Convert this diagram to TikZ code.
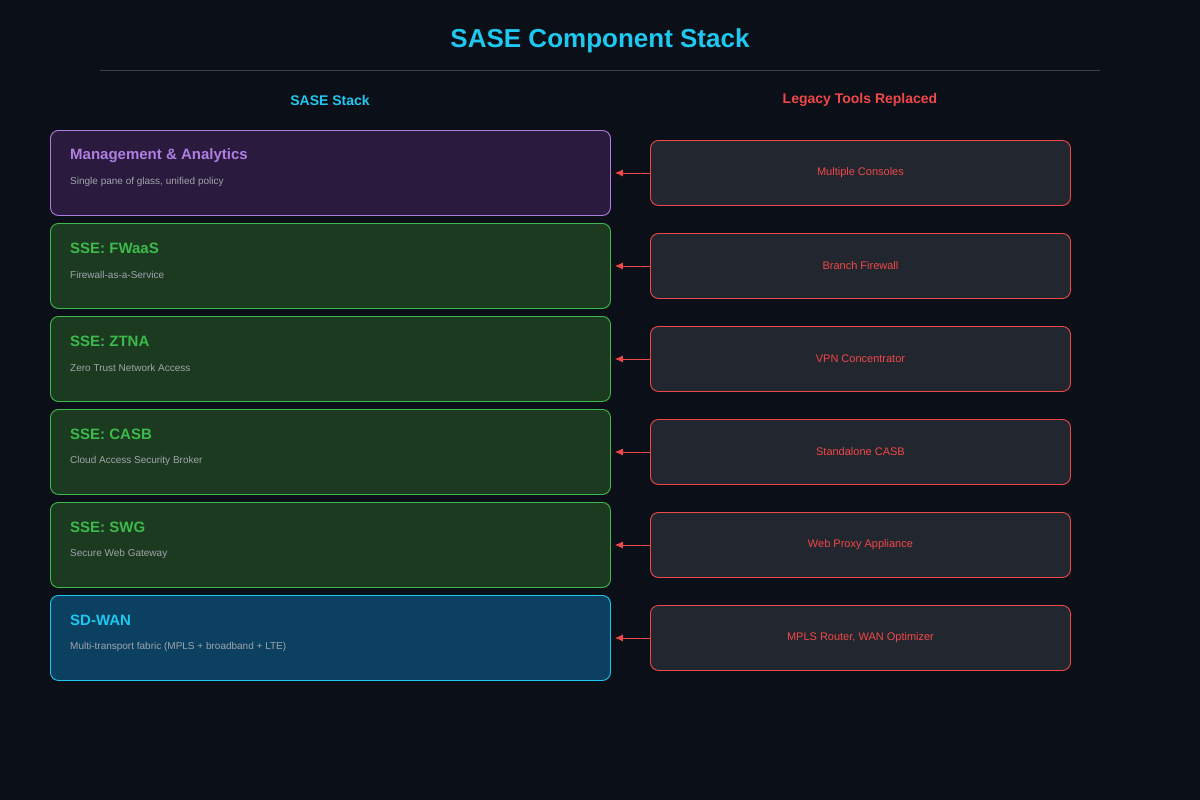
\documentclass[tikz,border=0pt]{standalone}
\usepackage{fontspec}
\setmainfont{Liberation Sans}
\usetikzlibrary{arrows.meta}
\definecolor{bg}{HTML}{0B0F17}
\definecolor{cyan}{HTML}{1EC8F0}
\definecolor{pfill}{HTML}{2A1A3E}\definecolor{pline}{HTML}{B07EE0}
\definecolor{gfill}{HTML}{1B3A20}\definecolor{gline}{HTML}{3CBA4C}
\definecolor{bfill}{HTML}{0C4060}
\definecolor{rline}{HTML}{F04848}\definecolor{rfill}{HTML}{22262E}
\definecolor{sub}{HTML}{A0A4AC}
\begin{document}
\begin{tikzpicture}[x=1pt,y=-1pt,
 stack/.style={draw,rounded corners=8pt,line width=0.9pt,minimum width=560pt,minimum height=85pt,anchor=north west},
 leg/.style={draw=rline,fill=rfill,rounded corners=8pt,line width=0.9pt,minimum width=420pt,minimum height=65pt,anchor=north west,text=rline,font=\fontsize{11}{13}\selectfont},
 hd/.style={anchor=west,inner sep=0pt,font=\bfseries\fontsize{15}{18}\selectfont},
 sb/.style={anchor=west,inner sep=0pt,text=sub,font=\fontsize{10}{12}\selectfont},
 arr/.style={draw=rline,line width=0.9pt,-{Latex[length=8pt,width=7pt]}}]
\fill[bg] (0,0) rectangle (1200,800);
\node[text=cyan,font=\bfseries\fontsize{26}{30}\selectfont] (title) at (600,41) {SASE Component Stack};
\draw[color=white!20!bg,line width=0.8pt] (100,70) coordinate (d1) -- (1100,70) coordinate (d2);
\node[text=cyan,font=\bfseries\fontsize{14}{17}\selectfont] (h1) at (330,100) {SASE Stack};
\node[text=rline,font=\bfseries\fontsize{14}{17}\selectfont] (h2) at (860,100) {Legacy Tools Replaced};
\foreach \i/\fc/\lc/\h/\s/\r in {
 0/pfill/pline/Management \& Analytics/{Single pane of glass, unified policy}/Multiple Consoles,
 1/gfill/gline/SSE: FWaaS/Firewall-as-a-Service/Branch Firewall,
 2/gfill/gline/SSE: ZTNA/Zero Trust Network Access/VPN Concentrator,
 3/gfill/gline/SSE: CASB/Cloud Access Security Broker/Standalone CASB,
 4/gfill/gline/SSE: SWG/Secure Web Gateway/Web Proxy Appliance,
 5/bfill/cyan/SD-WAN/Multi-transport fabric (MPLS + broadband + LTE)/{MPLS Router, WAN Optimizer}}{
 \pgfmathsetmacro\y{130+93*\i}
 \node[stack,draw=\lc,fill=\fc] (s\i) at (50,\y) {};
 \node[hd,text=\lc] (t\i) at (70,\y+25.5) {\h};
 \node[sb] (u\i) at (70,\y+52) {\s};
 \node[leg] (l\i) at (650,\y+10) {\r};
 \draw[arr] (l\i.west) -- ([xshift=4pt]s\i.east);
}
\end{tikzpicture}
\end{document}
